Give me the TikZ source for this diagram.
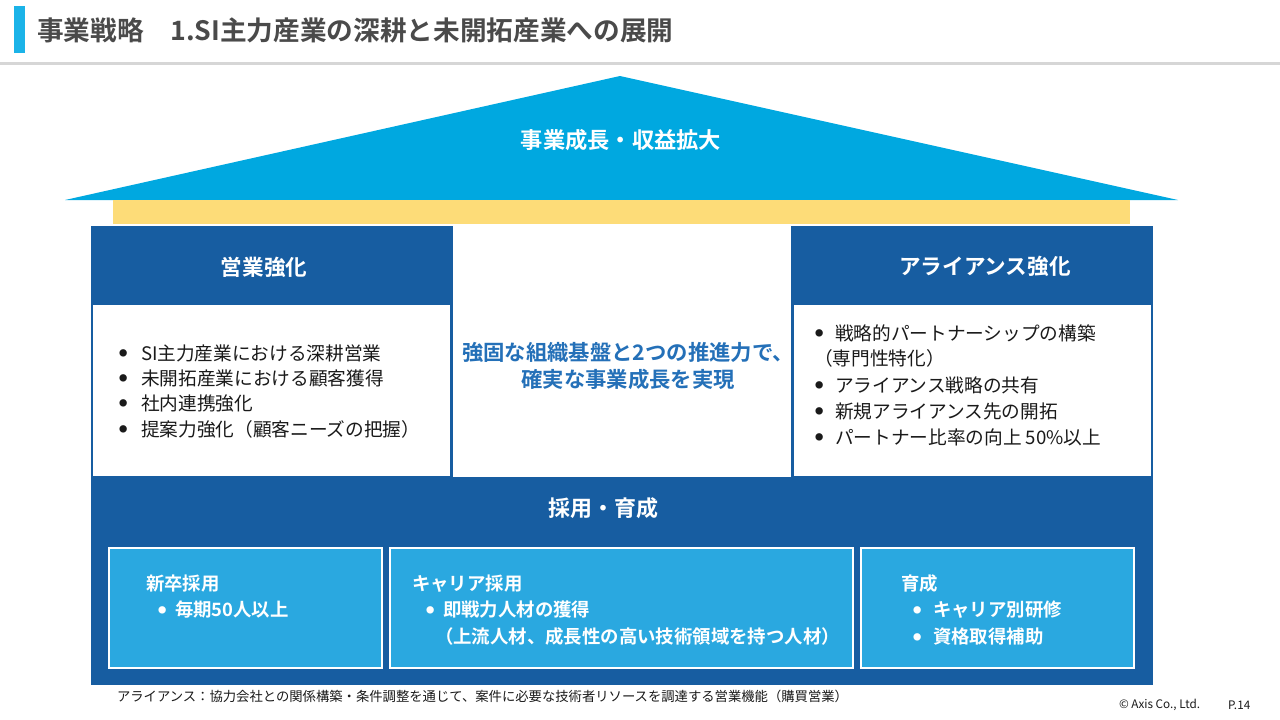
\documentclass[tikz,border=0pt]{standalone}
\usepackage{fontspec}
\setmainfont{Noto Sans CJK JP}[BoldFont={Noto Sans CJK JP Bold}]
\definecolor{dblue}{RGB}{23,93,161}
\definecolor{roofc}{RGB}{0,168,224}
\definecolor{yel}{RGB}{253,220,120}
\definecolor{lblue}{RGB}{42,168,224}
\definecolor{midc}{RGB}{36,112,184}
\definecolor{ttlgray}{RGB}{74,74,74}
\definecolor{barc}{RGB}{27,179,232}
\definecolor{txt}{RGB}{26,26,26}
\definecolor{rule}{RGB}{214,214,214}
\newcommand\myblt[1]{\makebox[#1][l]{\raisebox{2.9pt}{\fontsize{6.2}{6.2}\selectfont ●}}}
\tikzset{
  x=0.75pt, y=-0.75pt,
  every node/.style={inner sep=0pt, outer sep=0pt},
  ttl/.style={anchor=west, font=\fontsize{20}{24}\selectfont\bfseries, text=ttlgray},
  rooft/.style={font=\fontsize{16.7}{20}\selectfont\bfseries, text=white},
  hdr/.style={font=\fontsize{16.2}{20}\selectfont\bfseries, text=white},
  item/.style={anchor=west, font=\fontsize{14}{17}\selectfont, text=txt},
  midt/.style={font=\fontsize{16}{19}\selectfont\bfseries, text=midc},
  subt/.style={anchor=west, font=\fontsize{13.8}{17}\selectfont\bfseries, text=white},
  subbox/.style={fill=lblue, draw=white, line width=1.5pt},
  wbox/.style={fill=white},
  note/.style={anchor=west, font=\fontsize{10}{12}\selectfont, text=txt},
  small/.style={anchor=west, font=\fontsize{8.8}{10}\selectfont, text=txt}
}
\begin{document}
\begin{tikzpicture}
\useasboundingbox (0,0) rectangle (1280,719);
\fill[white] (0,0) rectangle (1280,719);
% title
\fill[barc] (14,6) rectangle (25,53);
\node[ttl] (title) at (37,30) {事業戦略\hspace{1em}1.SI主力産業の深耕と未開拓産業への展開};
\fill[rule] (0,62) rectangle (1280,64.5);
% roof
\fill[roofc] (65,200) -- (620,76) -- (1178,200) -- cycle;
\fill[yel] (113,200) rectangle (1130,224);
% body
\fill[dblue] (91,226) rectangle (1153,685);
\fill[wbox] (93,305) rectangle (450,476);
\fill[wbox] (453,224) rectangle (791,477);
\fill[wbox] (794,305) rectangle (1151,476);
% sub boxes
\draw[subbox] (109,548) rectangle (382,668);
\draw[subbox] (390,548) rectangle (853,668);
\draw[subbox] (861,548) rectangle (1134,668);
% texts
\node[rooft] (roof) at (621,140) {事業成長・収益拡大};
\node[hdr] (sales) at (264,267) {営業強化};
\node[hdr] (alli) at (985,266) {アライアンス強化};
\node[item] (l1) at (119,353) {\myblt{16.5pt}SI主力産業における深耕営業};
\node[item] (l2) at (119,378) {\myblt{16.5pt}未開拓産業における顧客獲得};
\node[item] (l3) at (119,403) {\myblt{16.5pt}社内連携強化};
\node[item] (l4) at (119,429) {\myblt{16.5pt}提案力強化（顧客ニーズの把握）};
\node[item] (r1) at (815,333) {\myblt{15pt}戦略的パートナーシップの構築};
\node[item] (r2) at (814,358) {（専門性特化）};
\node[item] (r3) at (815,385) {\myblt{15pt}アライアンス戦略の共有};
\node[item] (r4) at (815,411) {\myblt{15pt}新規アライアンス先の開拓};
\node[item] (r5) at (815,437) {\myblt{15pt}パートナー比率の向上 50\%以上};
\node[midt] (m1) at (628,352) {強固な組織基盤と2つの推進力で、};
\node[midt] (m2) at (628,379) {確実な事業成長を実現};
\node[font=\fontsize{16.5}{20}\selectfont\bfseries, text=white] (base) at (603,508) {採用・育成};
\node[subt] (s1) at (146,584) {新卒採用};
\node[subt] (s1a) at (158,610) {\myblt{12.75pt}毎期50人以上};
\node[subt] (s2) at (412,584) {キャリア採用};
\node[subt] (s2a) at (426,610) {\myblt{12.75pt}即戦力人材の獲得};
\node[subt] (s2b) at (435,637) {（上流人材、成長性の高い技術領域を持つ人材）};
\node[subt] (s3) at (901,584) {育成};
\node[subt] (s3a) at (913,610) {\myblt{15pt}キャリア別研修};
\node[subt] (s3b) at (913,637) {\myblt{15pt}資格取得補助};
\node[note] (fn) at (117,696) {アライアンス：協力会社との関係構築・条件調整を通じて、案件に必要な技術者リソースを調達する営業機能（購買営業）};
\node[small] (copy) at (1119,705) {© Axis Co., Ltd.};
\node[small] (page) at (1228,705) {P.14};
\end{tikzpicture}
\end{document}
